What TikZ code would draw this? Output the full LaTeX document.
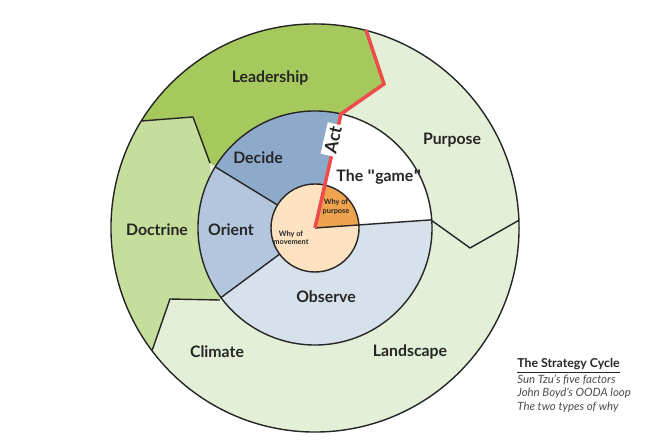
\documentclass[tikz,border=0pt]{standalone}
\usepackage{fontspec}
\setmainfont{Lato}
\newfontfamily\quotefont{DejaVu Sans}
\newcommand{\strq}{{\quotefont\symbol{34}}}
\usetikzlibrary{calc}
\definecolor{leadgreen}{HTML}{A6C95E}
\definecolor{doctgreen}{HTML}{C6DE9B}
\definecolor{palegreen}{HTML}{E3EFD6}
\definecolor{decideblue}{HTML}{8EAACB}
\definecolor{orientblue}{HTML}{B3C6DD}
\definecolor{observeblue}{HTML}{D7E1EC}
\definecolor{purposeorange}{HTML}{F0A34F}
\definecolor{peach}{HTML}{FDE2C2}
\definecolor{actred}{HTML}{EE4B4B}

\begin{document}
\begin{tikzpicture}[
  edge/.style={draw=black!85, line width=0.8pt, line join=round},
  lbl/.style={font=\bfseries\fontsize{9}{10}\selectfont, text=black!85},
  tiny/.style={font=\bfseries\fontsize{4.2}{4.8}\selectfont, align=center, text=black!85},
  legend/.style={font=\itshape\fontsize{6.5}{8}\selectfont, anchor=west, inner sep=0pt, text=black!70}
]
  \useasboundingbox (0,0) rectangle (13.14,8.96);
  \begin{scope}[shift={(6.3,4.4)}, x=0.02cm, y=0.02cm]
    % outer ring
    \fill[palegreen] (0,0) circle (204);
    \begin{scope}
      \clip (0,0) circle (204);
      \fill[leadgreen] (0,0) -- (26,114) -- (69,144) -- (53,192) -- (47,228) -- (-215,228)
        -- (-215,106) -- (-173,107) -- (-122,111) -- (-105,65) -- cycle;
      \fill[doctgreen] (-173,107) -- (-122,111) -- (-105,65) -- (-95,-72) -- (-145,-71)
        -- (-162,-120) -- (-230,-140) -- (-230,107) -- cycle;
      \draw[edge] (-215,106) -- (-173,107) -- (-122,111) -- (-105,65);
      \draw[edge] (-95,-72) -- (-145,-71) -- (-162,-120) -- (-175,-150);
      \draw[edge] (116,8) -- (155,-20) -- (215,14);
    \end{scope}
    \draw[edge] (0,0) circle (204);
    % middle ring
    \fill[white] (0,0) -- (4:117) arc (4:77:117) -- cycle;
    \fill[decideblue] (0,0) -- (77:117) arc (77:148.5:117) -- cycle;
    \fill[orientblue] (0,0) -- (148.5:117) arc (148.5:216.5:117) -- cycle;
    \fill[observeblue] (0,0) -- (216.5:117) arc (216.5:364:117) -- cycle;
    \draw[edge] (0,0) circle (117);
    \draw[edge] (0,0) -- (4:117);
    \draw[edge] (0,0) -- (148.5:117);
    \draw[edge] (0,0) -- (216.5:117);
    % inner circle
    \fill[peach] (0,0) circle (44);
    \fill[purposeorange] (0,0) -- (4:44) arc (4:77:44) -- cycle;
    \draw[edge] (0,0) circle (44);
    \draw[edge] (0,0) -- (4:44);
    % act line
    \draw[actred, line width=2pt, line join=miter] (0,0) -- (26,114) -- (69,144) -- (53,192) -- (51,198);
    \node[fill=white, rotate=77, inner sep=1.5pt, text=black!85, font=\bfseries\fontsize{10}{11}\selectfont] (act) at (18,88) {Act};
    % labels
    \node[lbl] (leadership) at (-45,150) {Leadership};
    \node[lbl] (purpose) at (137,88) {Purpose};
    \node[lbl] (doctrine) at (-158,-2) {Doctrine};
    \node[lbl] (climate) at (-98,-124) {Climate};
    \node[lbl] (landscape) at (95,-124) {Landscape};
    \node[lbl] (decide) at (-57,70) {Decide};
    \node[lbl] (orient) at (-84,-2) {Orient};
    \node[lbl] (observe) at (11,-69) {Observe};
    \node[lbl] (game) at (64,51) {The \strq game\strq};
    \node[tiny] (whypurpose) at (21,21) {Why of\\purpose};
    \node[tiny] (whymovement) at (-24,-10) {Why of\\movement};
  \end{scope}
  % legend
  \node[legend, font=\bfseries\fontsize{7}{8}\selectfont, text=black!85] (title) at (10.34,1.65) {\underline{The Strategy Cycle}};
  \node[legend] (sun) at (10.34,1.36) {Sun Tzu's five factors};
  \node[legend] (boyd) at (10.34,1.09) {John Boyd's OODA loop};
  \node[legend] (why) at (10.34,0.82) {The two types of why};
\end{tikzpicture}
\end{document}
